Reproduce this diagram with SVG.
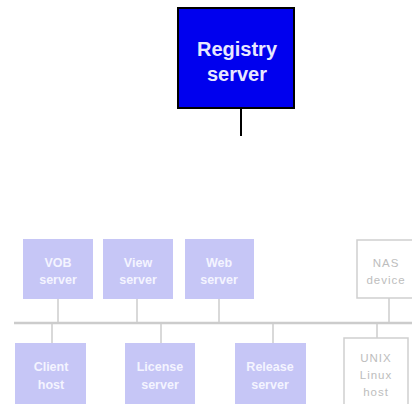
<svg xmlns="http://www.w3.org/2000/svg" width="412" height="404" viewBox="0 0 412 404">
<style>
.srv rect{fill:#c6c6f6;stroke:none}
.srv text{fill:#f4f4ff;font-family:"Liberation Sans",Arial,sans-serif;font-weight:bold;font-size:12.5px;text-anchor:middle}
.dev rect{fill:#ffffff;stroke:#cfcfcf;stroke-width:1.5}
.dev text{fill:#bdbdbd;font-family:"Liberation Sans",Arial,sans-serif;font-size:11.5px;letter-spacing:1px;text-anchor:middle}
.reg{fill:#e8e8ff;font-family:"Liberation Sans",Arial,sans-serif;font-weight:bold;font-size:20px;text-anchor:middle}
.bus{stroke:#cccccc;stroke-width:2.5;fill:none}
.link{stroke:#cccccc;stroke-width:1.5;fill:none}
</style>
<rect width="412" height="404" fill="#ffffff"/>
<g id="connectors">
<line x1="241" y1="108" x2="241" y2="136" stroke="#000" stroke-width="2"/>
<line class="bus" x1="14" y1="323" x2="412" y2="323"/>
<line class="link" x1="58" y1="299" x2="58" y2="323"/>
<line class="link" x1="137" y1="299" x2="137" y2="323"/>
<line class="link" x1="219" y1="299" x2="219" y2="323"/>
<line class="link" x1="389" y1="298" x2="389" y2="323"/>
<line class="link" x1="52" y1="323" x2="52" y2="343"/>
<line class="link" x1="161" y1="323" x2="161" y2="343"/>
<line class="link" x1="273" y1="323" x2="273" y2="343"/>
<line class="link" x1="377" y1="323" x2="377" y2="338"/>
</g>
<g id="registry">
<rect x="178" y="8" width="116" height="100" fill="#0000ee" stroke="#000" stroke-width="2"/>
<text class="reg" x="237" y="56">Registry</text>
<text class="reg" x="237" y="81">server</text>
</g>
<g id="vob" class="srv"><rect x="23" y="239" width="70" height="60"/><text x="58" y="267">VOB</text><text x="58" y="284">server</text></g>
<g id="view" class="srv"><rect x="103" y="239" width="70" height="60"/><text x="138" y="267">View</text><text x="138" y="284">server</text></g>
<g id="web" class="srv"><rect x="185" y="239" width="69" height="60"/><text x="219" y="267">Web</text><text x="219" y="284">server</text></g>
<g id="nas" class="dev"><rect x="357" y="240" width="60" height="58"/><text x="386" y="267">NAS</text><text x="386" y="284">device</text></g>
<g id="client" class="srv"><rect x="15" y="343" width="71" height="61"/><text x="51" y="371">Client</text><text x="51" y="389">host</text></g>
<g id="license" class="srv"><rect x="125" y="343" width="70" height="61"/><text x="160" y="371">License</text><text x="160" y="389">server</text></g>
<g id="release" class="srv"><rect x="235" y="343" width="71" height="61"/><text x="270" y="371">Release</text><text x="270" y="389">server</text></g>
<g id="unix" class="dev"><rect x="344" y="338" width="64" height="70"/><text x="376" y="362">UNIX</text><text x="376" y="379">Linux</text><text x="376" y="396">host</text></g>
</svg>
